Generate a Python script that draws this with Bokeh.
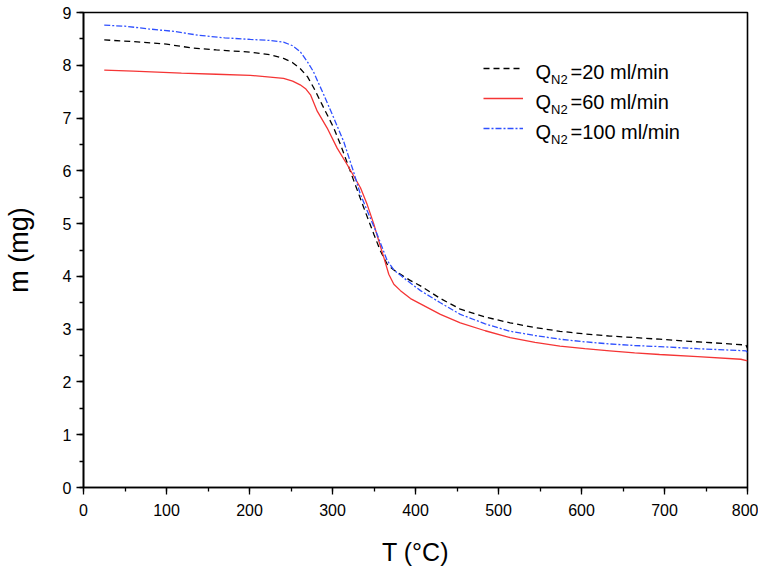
from bokeh.plotting import figure
from bokeh.models import Range1d, SingleIntervalTicker, Legend, LegendItem, Label
from bokeh.embed import file_html
from bokeh.resources import INLINE

# ---- data ----
T_20 = [25, 60, 100, 130, 160, 201, 225, 241, 252, 261, 270, 277.5, 289.5, 301.6, 309.6, 325.7,
        337.7, 349.8, 357.8, 365.9, 374, 382, 394, 406, 430, 454, 484, 514, 544, 574, 604, 634,
        664, 694, 730, 770, 798, 800]
m_20 = [8.48, 8.45, 8.40, 8.33, 8.29, 8.25, 8.20, 8.13, 8.05, 7.94, 7.78, 7.57, 7.19, 6.81, 6.50,
        5.81, 5.30, 4.80, 4.48, 4.23, 4.12, 4.04, 3.92, 3.82, 3.58, 3.38, 3.23, 3.12, 3.03, 2.96,
        2.91, 2.87, 2.84, 2.81, 2.77, 2.73, 2.70, 2.64]

T_60 = [25, 60, 118, 160, 201, 241, 252, 261, 268, 273.5, 281.6, 293.6, 305.6, 317.6, 333.7,
        341.8, 349.8, 355.8, 361.8, 367.8, 373.9, 381.9, 394, 406, 430, 454, 484, 514, 544, 574,
        604, 634, 664, 694, 740, 792, 800]
m_60 = [7.91, 7.89, 7.85, 7.83, 7.81, 7.75, 7.70, 7.63, 7.55, 7.44, 7.13, 6.81, 6.43, 6.12, 5.68,
        5.36, 4.99, 4.67, 4.36, 4.04, 3.85, 3.73, 3.58, 3.48, 3.28, 3.12, 2.97, 2.84, 2.75, 2.68,
        2.63, 2.59, 2.55, 2.52, 2.48, 2.43, 2.40]

T_100 = [25, 50, 78, 110, 138, 170, 201, 225, 241, 252, 261, 270, 277, 289.5, 301.6, 313.6, 325,
         333.7, 343, 353.7, 365.9, 374, 382, 390, 406, 430, 454, 484, 514, 544, 574, 604, 634,
         664, 694, 740, 798, 800]
m_100 = [8.76, 8.74, 8.69, 8.64, 8.57, 8.52, 8.49, 8.47, 8.44, 8.37, 8.26, 8.06, 7.88, 7.44, 7.00,
         6.55, 6.00, 5.55, 5.20, 4.80, 4.30, 4.12, 4.02, 3.92, 3.73, 3.50, 3.28, 3.10, 2.96, 2.88,
         2.81, 2.76, 2.72, 2.69, 2.67, 2.63, 2.59, 2.56]

flows = ["20", "60", "100"]
x_ticks_interval = 100
y_ticks_interval = 1

FONT = "Liberation Sans"

p = figure(width=758, height=568, output_backend="svg", toolbar_location=None,
           x_range=Range1d(0, 800), y_range=Range1d(0, 9),
           min_border_left=83, min_border_right=11, min_border_top=12, min_border_bottom=77)
p.background_fill_color = "white"
p.border_fill_color = "white"
p.xgrid.visible = False
p.ygrid.visible = False
p.outline_line_color = "black"
p.outline_line_width = 1.6

r20 = p.line(T_20, m_20, line_color="black", line_width=1.3, line_dash="6 4")
r60 = p.line(T_60, m_60, line_color="#f53535", line_width=1.3)
r100 = p.line(T_100, m_100, line_color="#2f50ff", line_width=1.3, line_dash="6 2 2 2")

p.xaxis.ticker = SingleIntervalTicker(interval=x_ticks_interval, num_minor_ticks=2)
p.yaxis.ticker = SingleIntervalTicker(interval=y_ticks_interval, num_minor_ticks=2)
for ax in (p.xaxis[0], p.yaxis[0]):
    ax.axis_line_width = 1.6
    ax.axis_line_color = "black"
    ax.major_tick_in = 0
    ax.major_tick_out = 7
    ax.minor_tick_in = 0
    ax.minor_tick_out = 4
    ax.major_tick_line_width = 1.3
    ax.minor_tick_line_width = 1.3
    ax.major_label_text_font = FONT
    ax.major_label_text_font_size = "16px"
    ax.major_label_text_color = "black"
    ax.axis_label_text_font = FONT
    ax.axis_label_text_font_style = "normal"
    ax.axis_label_text_color = "black"

p.xaxis.axis_label = "T (°C)"
p.yaxis.axis_label = "m (mg)"
p.xaxis.major_label_standoff = 9
p.yaxis.major_label_standoff = 5
p.xaxis.axis_label_text_font_size = "25px"
p.yaxis.axis_label_text_font_size = "27px"
p.xaxis.axis_label_standoff = 19
p.yaxis.axis_label_standoff = 26

legend = Legend(items=[LegendItem(label=" ", renderers=[r]) for r in (r20, r60, r100)],
                location=(400, 349), orientation="vertical",
                glyph_width=40, glyph_height=20, label_height=20, label_width=1,
                spacing=10, padding=0, margin=0, label_standoff=0,
                label_text_font_size="8px",
                border_line_color=None, background_fill_alpha=0)
p.add_layout(legend, "center")

for i, q in enumerate(flows):
    base_y = 416 - 30 * i
    p.add_layout(Label(x=452, y=base_y, x_units="screen", y_units="screen", text="Q",
                       text_font=FONT, text_font_size="20px", text_color="black",
                       text_baseline="alphabetic"))
    p.add_layout(Label(x=467.5, y=base_y - 7.5, x_units="screen", y_units="screen", text="N2",
                       text_font=FONT, text_font_size="13px", text_color="black",
                       text_baseline="alphabetic"))
    p.add_layout(Label(x=487, y=base_y, x_units="screen", y_units="screen",
                       text="=" + q + " ml/min", text_color="black",
                       text_font=FONT, text_font_size="20px", text_baseline="alphabetic"))

open("out.html", "w").write(file_html(p, INLINE))
